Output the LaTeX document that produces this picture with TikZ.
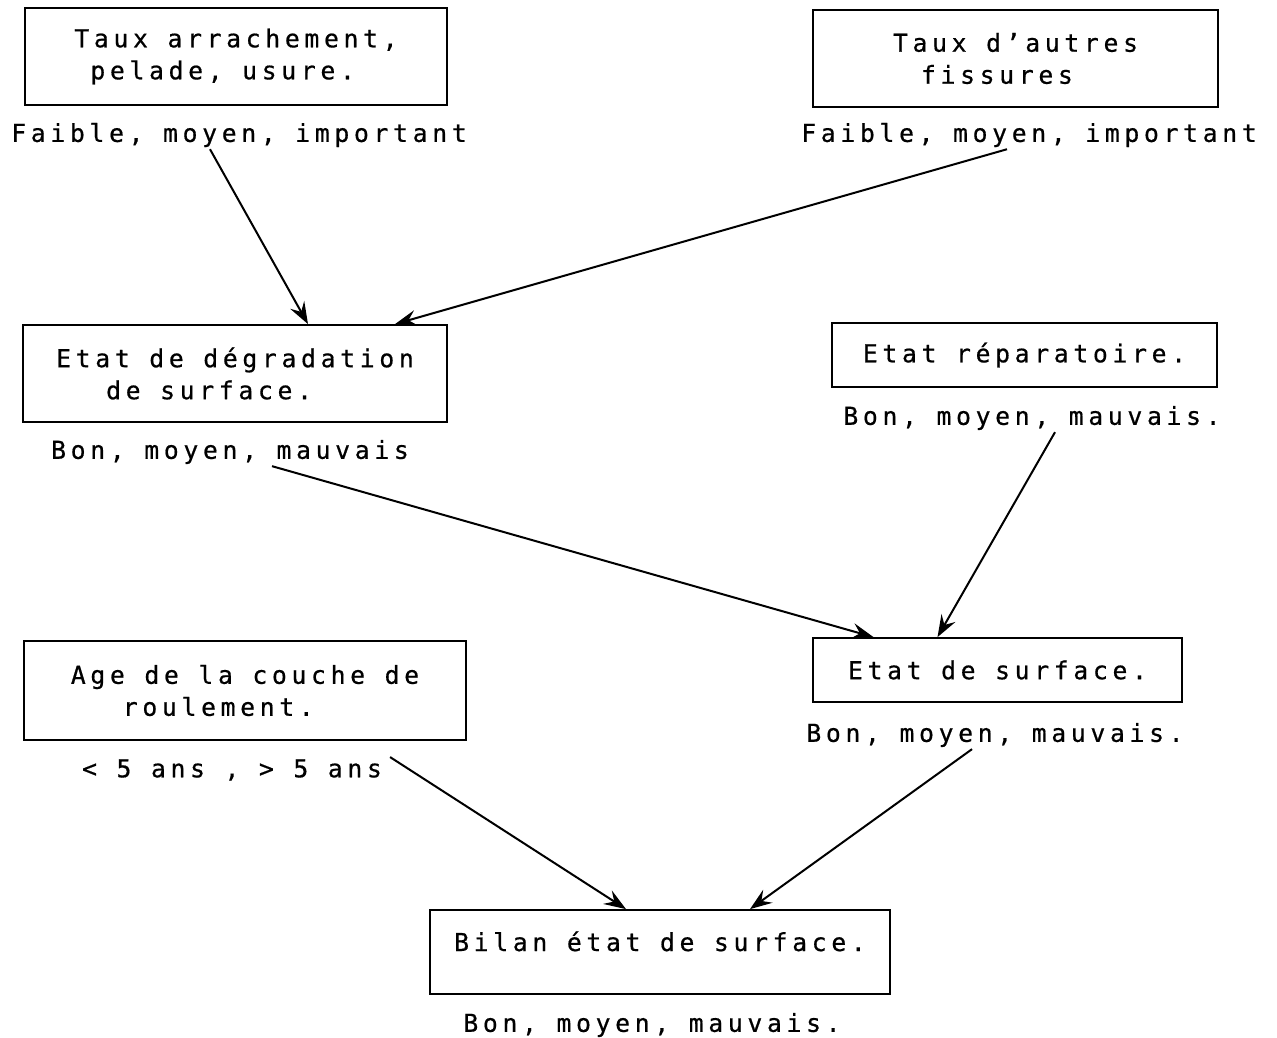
\documentclass[tikz,border=0pt]{standalone}
\usepackage{fontspec}
\setmonofont[LetterSpace=19,FakeBold=0.6]{DejaVu Sans Mono}
\usetikzlibrary{arrows.meta}
\tikzset{
    boite/.style={draw, line width=1.8pt, align=left, inner sep=0pt},
    etiq/.style={inner sep=2pt},
    fleche/.style={line width=2pt, -{Stealth[length=22pt,width=16pt,inset=8pt]}},
}

\begin{document}
\begin{tikzpicture}[x=1pt, y=-1pt, font={\ttfamily\fontsize{24.7}{32}\selectfont}]

    % Cadre
    \useasboundingbox (0,0) rectangle (1277,1037);

% Boites
\node[boite, minimum width=422pt, minimum height=97pt] (arrach) at (236,56.5)
    {Taux arrachement,\\\hspace*{16pt}pelade, usure.};
\node[boite, minimum width=405pt, minimum height=97pt] (autres) at (1015.5,58.5)
    {Taux d’autres\\\hspace*{28pt}fissures};
\node[boite, minimum width=424pt, minimum height=97pt] (degrad) at (235,373.5)
    {Etat de dégradation\\\hspace*{50pt}de surface.};
\node[boite, minimum width=385pt, minimum height=64pt] (repar) at (1024.5,355)
    {Etat réparatoire.};
\node[boite, minimum width=442pt, minimum height=99pt] (age) at (245,690.5)
    {Age de la couche de\\\hspace*{52pt}roulement.};
\node[boite, minimum width=369pt, minimum height=64pt] (surf) at (997.5,670)
    {Etat de surface.};
\node[boite, minimum width=460pt, minimum height=84pt, text height=18pt, text depth=20pt] (bilan) at (660,952)
    {Bilan état de surface.};

% Valeurs
\node[etiq] (arrachVal) at (239,135) {Faible, moyen, important};
\node[etiq] (autresVal) at (1029,135) {Faible, moyen, important};
\node[etiq] (degradVal) at (230,452) {Bon, moyen, mauvais};
\node[etiq] (reparVal) at (1032,418) {Bon, moyen, mauvais.};
\node[etiq] (ageVal) at (232,770) {< 5 ans , > 5 ans};
\node[etiq] (surfVal) at (995,735) {Bon, moyen, mauvais.};
\node[etiq] (bilanVal) at (652,1025) {Bon, moyen, mauvais.};

% Fleches
\draw[fleche] ([xshift=-29pt]arrachVal.south) -- ([xshift=73pt]degrad.north);
\draw[fleche] ([xshift=-22pt]autresVal.south) -- ([xshift=160pt]degrad.north);
\draw[fleche] ([xshift=42pt]degradVal.south) -- ([xshift=-124pt]surf.north);
\draw[fleche] ([xshift=23pt]reparVal.south) -- ([xshift=-60pt]surf.north);
\draw[fleche] ([xshift=6pt]ageVal.north east) -- ([xshift=-34pt]bilan.north);
\draw[fleche] ([xshift=-23pt]surfVal.south) -- ([xshift=90pt]bilan.north);

\end{tikzpicture}
\end{document}
